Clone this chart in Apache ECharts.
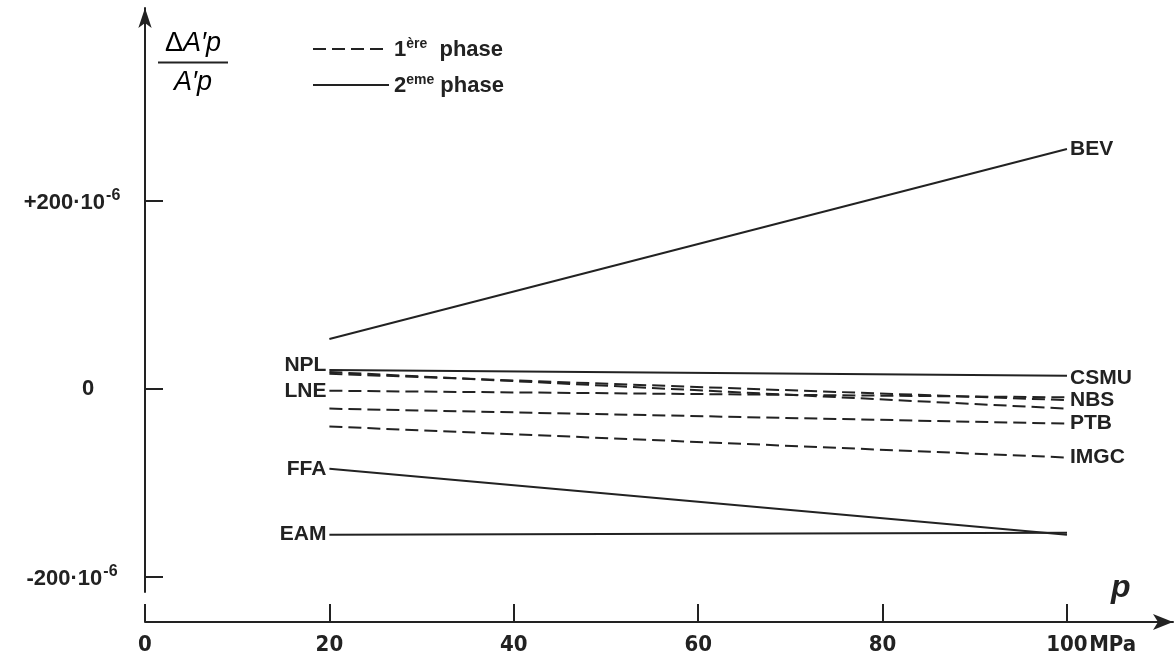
<!DOCTYPE html>
<html>
<head>
<meta charset="utf-8">
<script src="https://cdn.jsdelivr.net/npm/echarts@6/dist/echarts.min.js"></script>
<style>
html,body{margin:0;padding:0;background:#fff;}
#chart{width:1175px;height:661px;}
</style>
</head>
<body>
<div id="chart"></div>
<script>
// ---- data (values in 10^-6) ----
const pressures = [20, 100];               // MPa
const labs      = ['BEV', 'CSMU', 'NPL', 'NBS', 'LNE', 'PTB', 'IMGC', 'FFA', 'EAM'];
const phases    = [2, 2, 1, 1, 1, 1, 1, 2, 2];   // 1 = 1ère phase (dashed), 2 = 2eme phase (solid)
const startVals = [53, 20, 18, 16, -2, -21, -40, -85, -155];
const endVals   = [255, 14, -21, -12, -9, -37, -73, -155, -153];
const labelSide = ['right', 'right', 'left', 'right', 'left', 'right', 'right', 'left', 'left'];
const xTicks    = [0, 20, 40, 60, 80, 100];
const yTicks    = [-200, 0, 200];
const phaseNames = ['1ère phase', '2eme phase'];

const ink = '#222';
const font = '"Liberation Sans", Arial, sans-serif';
const condensed = '"DejaVu Sans Condensed", "Liberation Sans Narrow", sans-serif';

const series = labs.map((lab, i) => {
  const side = labelSide[i];
  const lbl = {
    show: true, formatter: lab, position: side, distance: 3,
    color: ink, fontFamily: font, fontWeight: 'bold', fontSize: 21
  };
  if (lab === 'NPL') lbl.offset = [0, -7];
  if (lab === 'CSMU') lbl.offset = [0, 2];
  const d0 = { value: [pressures[0], startVals[i]] };
  const d1 = { value: [pressures[1], endVals[i]] };
  if (side === 'left') d0.label = lbl; else d1.label = lbl;
  return {
    type: 'line',
    name: phaseNames[phases[i] - 1],
    data: [d0, d1],
    symbol: 'circle',
    symbolSize: 0,
    showSymbol: true,
    silent: true,
    lineStyle: { color: ink, width: 2, type: phases[i] === 1 ? [13, 6] : 'solid' },
    itemStyle: { color: ink },
    label: { show: false },
    animation: false
  };
});

const chart = echarts.init(document.getElementById('chart'), null, { renderer: 'canvas' });
chart.setOption({
  backgroundColor: '#fff',
  animation: false,
  grid: { left: 145, right: 2, top: 8, bottom: 69, containLabel: false },
  legend: {
    data: phaseNames,
    orient: 'vertical',
    left: 307, top: 32,
    itemWidth: 76, itemHeight: 14, itemGap: 12,
    selectedMode: false,
    itemStyle: { opacity: 0 },
    formatter: n => n === phaseNames[0]
      ? '{n|1}{s|ère}{n|  phase}'
      : '{n|2}{s|eme}{n| phase}',
    textStyle: {
      color: ink,
      rich: {
        n: { fontFamily: font, fontWeight: 'bold', fontSize: 22, color: ink, verticalAlign: 'bottom', lineHeight: 24 },
        s: { fontFamily: font, fontWeight: 'bold', fontSize: 14, color: ink, verticalAlign: 'top', lineHeight: 24, padding: [0, 0, 8, 0] }
      }
    }
  },
  xAxis: {
    type: 'value', min: 0, max: 111.5, offset: 30,
    axisLine: { show: true, onZero: false, lineStyle: { color: ink, width: 2 }, symbol: ['none', 'arrow'], symbolSize: [12, 20] },
    axisTick: { show: true, inside: true, length: 18, lineStyle: { color: ink, width: 2 }, customValues: xTicks },
    axisLabel: {
      customValues: xTicks, margin: 12,
      formatter: v => v === 100 ? '{w|}{a|100}{u|MPa}' : '{a|' + v + '}',
      rich: {
        a: { fontFamily: condensed, fontWeight: 'bold', fontSize: 22, color: ink },
        u: { fontFamily: condensed, fontWeight: 'bold', fontSize: 22, color: ink, width: 50 },
        w: { width: 50 }
      }
    },
    splitLine: { show: false },
    name: 'p', nameLocation: 'end', nameGap: -62,
    nameTextStyle: { fontFamily: font, fontStyle: 'italic', fontWeight: 'bold', fontSize: 32, color: ink, verticalAlign: 'bottom', padding: [0, 0, 18, 0] }
  },
  yAxis: {
    type: 'value', min: -216, max: 405,
    axisLine: { show: true, onZero: false, lineStyle: { color: ink, width: 2 }, symbol: ['none', 'arrow'], symbolSize: [10, 20] },
    axisTick: { show: true, inside: true, length: 18, lineStyle: { color: ink, width: 2 }, customValues: yTicks },
    axisLabel: {
      customValues: yTicks, margin: 73, align: 'center',
      formatter: v => v === 0 ? '{z|0}' : '{n|' + (v > 0 ? '+' : '-') + '200·10}{s|-6}',
      rich: {
        n: { fontFamily: font, fontWeight: 'bold', fontSize: 22, color: ink, verticalAlign: 'bottom', lineHeight: 26 },
        z: { fontFamily: font, fontWeight: 'bold', fontSize: 22, color: ink, padding: [0, 0, 0, 32] },
        s: { fontFamily: font, fontWeight: 'bold', fontSize: 16, color: ink, verticalAlign: 'top', lineHeight: 26, padding: [0, 0, 12, 1] }
      }
    },
    splitLine: { show: false }
  },
  graphic: [
    {
      type: 'text', left: 158, top: 30,
      style: {
        text: '{d|Δ}{a|A′p}\n{l|}\n{b|A′p}',
        rich: {
          d: { fontFamily: font, fontSize: 27, color: ink, lineHeight: 32, align: 'center' },
          a: { fontFamily: font, fontStyle: 'italic', fontSize: 27, color: ink, lineHeight: 32, align: 'center' },
          l: { width: 70, height: 2, backgroundColor: ink, lineHeight: 6, align: 'center' },
          b: { fontFamily: font, fontStyle: 'italic', fontSize: 27, color: ink, lineHeight: 34, align: 'center' }
        }
      }
    }
  ],
  series: series
});
</script>
</body>
</html>
